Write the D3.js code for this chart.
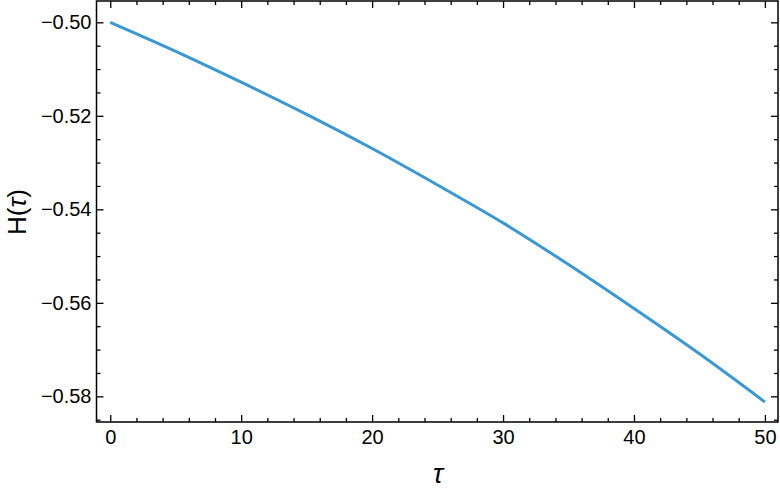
<!DOCTYPE html>
<html><head><meta charset="utf-8">
<script src="https://cdn.jsdelivr.net/npm/d3@7"></script>
<style>body{margin:0;background:#fff}svg{display:block}text{font-family:"Liberation Sans",Arial,sans-serif;fill:#000}</style>
</head><body><svg id="c" width="780" height="492"></svg>
<script>
const tau = [0, 5, 10, 15, 20, 25, 30, 35, 40, 45, 50];
const H = [-0.5, -0.5062, -0.5128, -0.5197, -0.5270, -0.5348, -0.5429, -0.5518, -0.5612, -0.5709, -0.5812];
const xTicks = [0, 10, 20, 30, 40, 50];
const yTicks = [-0.50, -0.52, -0.54, -0.56, -0.58];

const svg = d3.select("#c");
const L = 96.5, R = 778, T = 1, B = 422;
const x = d3.scaleLinear().domain([-1.05, 51.0]).range([L, R]);
const y = d3.scaleLinear().domain([-0.49544, -0.58549]).range([T, B]);

const xMinor = d3.range(0, 51, 2).filter(v => v % 10 !== 0);
const yMinor = d3.range(-0.495, -0.5856, -0.005).filter(v => Math.abs(Math.round(v*1000)) % 20 !== 0);

const fmt = v => (v < 0 ? "\u2212" : "") + Math.abs(v).toFixed(2);

function ax(gen, pos, maj, min, labels, pad) {
  const g = svg.append("g").attr("transform", pos);
  g.call(gen(maj).tickSize(-7).tickPadding(pad || 8).tickFormat(labels ? (typeof labels === "function" ? labels : d3.format("d")) : ""));
  g.select(".domain").remove();
  const gm = svg.append("g").attr("transform", pos);
  gm.call(gen(min).tickSize(-4).tickFormat(""));
  gm.select(".domain").remove();
  svg.selectAll(".tick line").attr("stroke", "#000").attr("stroke-width", 1.3);
  return g;
}
const gx = ax(v => d3.axisBottom(x).tickValues(v), `translate(0,${B})`, xTicks, xMinor, true, 8);
gx.selectAll("text").attr("font-size", 20);
ax(v => d3.axisTop(x).tickValues(v), `translate(0,${T})`, xTicks, xMinor, false);
const gy = ax(v => d3.axisLeft(y).tickValues(v), `translate(${L},0)`, yTicks, yMinor, fmt, 5);
gy.selectAll("text").attr("font-size", 20);
ax(v => d3.axisRight(y).tickValues(v), `translate(${R},0)`, yTicks, yMinor, false);
svg.selectAll(".tick text").attr("fill", "#000").attr("font-family", '"Liberation Sans",Arial,sans-serif');

svg.append("rect").attr("x", L).attr("y", T).attr("width", R - L).attr("height", B - T)
  .attr("fill", "none").attr("stroke", "#000").attr("stroke-width", 1.5);

svg.append("path").datum(tau.map((t, i) => [t, H[i]]))
  .attr("d", d3.line().x(d => x(d[0])).y(d => y(d[1])).curve(d3.curveMonotoneX))
  .attr("fill", "none").attr("stroke", "#3a99d3").attr("stroke-width", 3);

svg.append("text").attr("x", 438).attr("y", 483).attr("text-anchor", "middle")
  .attr("font-size", 27).attr("font-style", "italic").text("\u03c4");
const yl = svg.append("text").attr("transform", "translate(26,212) rotate(-90)").attr("text-anchor", "middle").attr("font-size", 26);
yl.append("tspan").text("H(");
yl.append("tspan").attr("font-style", "italic").text("\u03c4");
yl.append("tspan").text(")");
</script></body></html>
